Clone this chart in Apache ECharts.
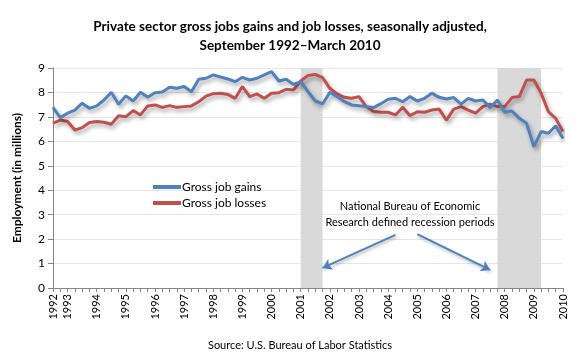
<!DOCTYPE html>
<html>
<head>
<meta charset="utf-8">
<script src="https://cdn.jsdelivr.net/npm/echarts@6/dist/echarts.min.js"></script>
<style>html,body{margin:0;padding:0;background:#fff;}#c{width:580px;height:360px;}</style>
</head>
<body>
<div id="c"></div>
<script>
const quarters = [
 '1992Q3','1992Q4',
 '1993Q1','1993Q2','1993Q3','1993Q4','1994Q1','1994Q2','1994Q3','1994Q4',
 '1995Q1','1995Q2','1995Q3','1995Q4','1996Q1','1996Q2','1996Q3','1996Q4',
 '1997Q1','1997Q2','1997Q3','1997Q4','1998Q1','1998Q2','1998Q3','1998Q4',
 '1999Q1','1999Q2','1999Q3','1999Q4','2000Q1','2000Q2','2000Q3','2000Q4',
 '2001Q1','2001Q2','2001Q3','2001Q4','2002Q1','2002Q2','2002Q3','2002Q4',
 '2003Q1','2003Q2','2003Q3','2003Q4','2004Q1','2004Q2','2004Q3','2004Q4',
 '2005Q1','2005Q2','2005Q3','2005Q4','2006Q1','2006Q2','2006Q3','2006Q4',
 '2007Q1','2007Q2','2007Q3','2007Q4','2008Q1','2008Q2','2008Q3','2008Q4',
 '2009Q1','2009Q2','2009Q3','2009Q4','2010Q1'
];
const grossJobGains = [
 7.39,6.97,
 7.15,7.28,7.56,7.35,7.45,7.69,8.01,7.52,
 7.86,7.65,8.01,7.80,7.99,8.02,8.21,8.17,
 8.24,8.03,8.54,8.58,8.72,8.63,8.55,8.44,
 8.62,8.51,8.58,8.72,8.85,8.47,8.54,8.33,
 8.44,8.03,7.65,7.53,8.01,7.83,7.62,7.49,
 7.46,7.42,7.38,7.54,7.72,7.76,7.62,7.83,
 7.65,7.76,7.97,7.80,7.73,7.79,7.52,7.76,
 7.65,7.69,7.38,7.69,7.19,7.24,6.94,6.74,
 5.78,6.40,6.33,6.64,6.12
];
const grossJobLosses = [
 6.74,6.87,
 6.81,6.46,6.56,6.77,6.81,6.78,6.70,7.05,
 7.01,7.26,7.08,7.45,7.49,7.39,7.46,7.39,
 7.42,7.45,7.62,7.85,7.95,7.97,7.92,7.76,
 8.24,7.83,7.94,7.76,7.97,7.99,8.13,8.10,
 8.47,8.69,8.74,8.61,8.17,7.94,7.80,7.76,
 7.83,7.42,7.22,7.19,7.19,7.08,7.39,7.05,
 7.21,7.19,7.28,7.32,6.87,7.32,7.42,7.28,
 7.15,7.42,7.52,7.42,7.42,7.79,7.83,8.51,
 8.51,7.97,7.21,6.94,6.40
];
const recessions = [['2001Q1','2001Q4'],['2007Q4','2009Q2']];
const seriesNames = ['Gross job gains','Gross job losses'];
const yTicks = [0,1,2,3,4,5,6,7,8,9];
// annotation arrows in data coordinates [category index, value]
const arrows = [[[46.6,2.17],[37.3,0.82]],[[50.3,2.2],[60.2,0.74]]];

const FONT = 'Lato, "Open Sans", sans-serif';
const chart = echarts.init(document.getElementById('c'), null, {renderer:'canvas'});
const shadow = {shadowColor:'rgba(0,0,0,0.35)', shadowBlur:4, shadowOffsetX:2, shadowOffsetY:3};

chart.setOption({
  animation:false,
  backgroundColor:'#fff',
  title:{
    text:'Private sector gross jobs gains and job losses, seasonally adjusted,\nSeptember 1992\u2013March 2010',
    left:'center', top:12,
    textStyle:{fontFamily:FONT, fontSize:13.5, fontWeight:'bold', color:'#000', lineHeight:19}
  },
  legend:{
    orient:'vertical', left:148, top:176,
    itemWidth:28, itemHeight:4, itemGap:4, icon:'rect',
    textStyle:{fontFamily:FONT, fontSize:12, color:'#000', padding:[0,0,0,-4]},
    data:seriesNames
  },
  grid:{left:53, right:17, top:68, bottom:72, containLabel:false},
  xAxis:{
    type:'category', data:quarters, boundaryGap:false,
    axisLine:{lineStyle:{color:'#868686', width:1}},
    axisTick:{show:true, interval:0, length:4, lineStyle:{color:'#868686'}},
    axisLabel:{
      interval:(i,v)=> i===0 || v.endsWith('Q1'),
      rotate:90, margin:6, fontFamily:FONT, fontSize:11, color:'#000',
      formatter:v=>v.slice(0,4)
    },
    splitLine:{show:false}
  },
  yAxis:{
    type:'value', min:yTicks[0], max:yTicks[yTicks.length-1], interval:1,
    name:'Employment (in millions)', nameLocation:'middle', nameGap:30,
    nameTextStyle:{fontFamily:FONT, fontSize:12, fontWeight:'bold', color:'#000'},
    axisLine:{show:true, lineStyle:{color:'#868686'}},
    axisTick:{show:true, length:5, lineStyle:{color:'#868686'}},
    axisLabel:{fontFamily:FONT, fontSize:12, color:'#000', margin:8},
    splitLine:{lineStyle:{color:'#e6e6e6', width:1}}
  },
  series:[
    {
      name:seriesNames[0], type:'line', data:grossJobGains, showSymbol:false, symbol:'none',
      color:'#4F81BD',
      lineStyle:Object.assign({width:3, color:'#4F81BD'}, shadow),
      z:4,
      markArea:{
        silent:true,
        itemStyle:{color:'#d9d9d9'},
        data:recessions.map(r=>[{xAxis:r[0]},{xAxis:r[1]}])
      }
    },
    {
      name:seriesNames[1], type:'line', data:grossJobLosses, showSymbol:false, symbol:'none',
      color:'#C0504D',
      lineStyle:Object.assign({width:3, color:'#C0504D'}, shadow),
      z:3,
      markLine:{
        silent:true, symbol:['none','arrow'], symbolSize:[9,9],
        label:{show:false},
        lineStyle:{color:'#4F81BD', width:2, type:'solid', shadowColor:'rgba(0,0,0,0.3)', shadowBlur:3, shadowOffsetX:1, shadowOffsetY:2},
        data:arrows.map(a=>[{coord:a[0]},{coord:a[1]}])
      }
    }
  ],
  graphic:[
    {type:'text', x:300, y:340, style:{text:'Source: U.S. Bureau of Labor Statistics', fontFamily:FONT, fontSize:11, fill:'#000', align:'center'}},
    {type:'text', x:410, y:198, style:{text:'National Bureau of Economic\nResearch defined recession periods', fontFamily:FONT, fontSize:11, fill:'#000', align:'center', lineHeight:16}}
  ]
});
</script>
</body>
</html>
